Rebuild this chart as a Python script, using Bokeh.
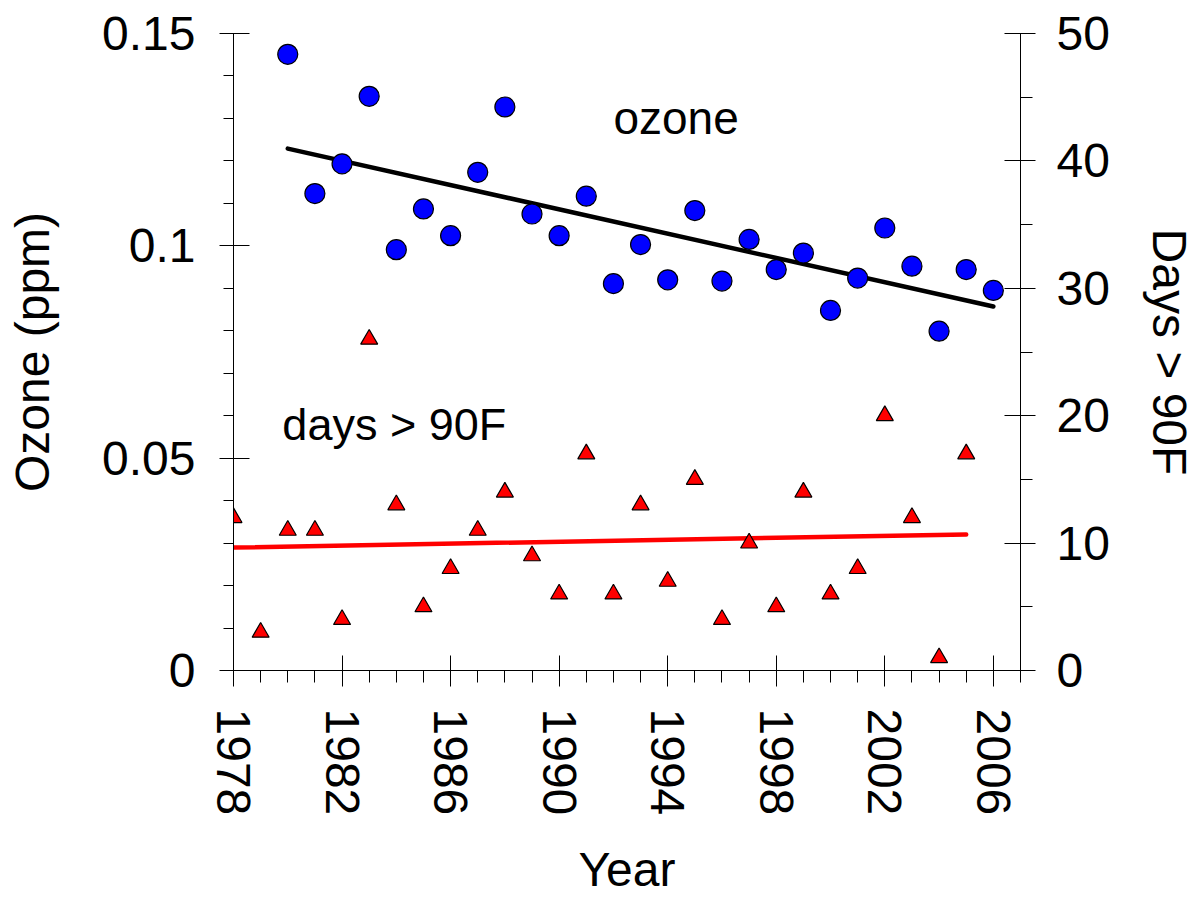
import math
from bokeh.plotting import figure
from bokeh.models import Range1d, LinearAxis, FixedTicker, Label
from bokeh.embed import file_html
from bokeh.resources import INLINE

# ---- data ----
ozone_years = list(range(1980, 2007))
ozone_ppm = [0.1451, 0.1123, 0.1193, 0.1352, 0.0991, 0.1087, 0.1024, 0.1173, 0.1327,
             0.1075, 0.1024, 0.1117, 0.0911, 0.1003, 0.0920, 0.1083, 0.0917, 0.1015,
             0.0944, 0.0983, 0.0848, 0.0924, 0.1042, 0.0952, 0.0799, 0.0944, 0.0895]

days_years = list(range(1978, 2006))
days_over_90f = [12, 3, 11, 11, 4, 26, 13, 5, 8, 11, 14, 9, 6, 17, 6, 13, 7, 15, 4, 10,
                 5, 14, 6, 8, 20, 12, 1, 17]

ozone_trend_years = [1980, 2006]
ozone_trend_ppm = [0.1229, 0.0857]
days_trend_years = [1978, 2005]
days_trend = [9.65, 10.68]

year_ticks = [1978, 1982, 1986, 1990, 1994, 1998, 2002, 2006]
year_minor_ticks = [y for y in range(1979, 2008) if y not in year_ticks]
ozone_ticks = [0, 0.05, 0.1, 0.15]
ozone_tick_labels = ["0", "0.05", "0.1", "0.15"]
ozone_minor_ticks = [0.01, 0.02, 0.03, 0.04, 0.06, 0.07, 0.08, 0.09, 0.11, 0.12, 0.13, 0.14]
days_ticks = [0, 10, 20, 30, 40, 50]
days_minor_ticks = [5, 15, 25, 35, 45]

FONT = "Liberation Sans"
TICK_FS = "48px"
LABEL_FS = "48px"

p = figure(width=1198, height=899, output_backend="svg", toolbar_location=None,
           x_range=Range1d(1978, 2007), y_range=Range1d(0, 0.15),
           min_border_left=233, min_border_right=178, min_border_top=33, min_border_bottom=229)
p.extra_y_ranges = {"days": Range1d(0, 50)}
p.outline_line_color = None
p.xgrid.visible = False
p.ygrid.visible = False
p.background_fill_color = "white"
p.border_fill_color = "white"

def style_axis(ax):
    ax.axis_line_color = "black"
    ax.axis_line_width = 1
    ax.major_tick_line_color = "black"
    ax.minor_tick_line_color = "black"
    ax.major_label_text_font = FONT
    ax.major_label_text_font_size = TICK_FS
    ax.major_label_text_color = "black"
    ax.axis_label_text_font = FONT
    ax.axis_label_text_font_size = LABEL_FS
    ax.axis_label_text_font_style = "normal"
    ax.axis_label_text_color = "black"
    ax.minor_tick_in = 0

# bottom axis
xa = p.xaxis[0]
style_axis(xa)
xa.ticker = FixedTicker(ticks=year_ticks, minor_ticks=year_minor_ticks)
xa.major_tick_in = 15
xa.major_tick_out = 16
xa.minor_tick_out = 12
xa.major_label_orientation = "vertical"
xa.major_label_standoff = 22
xa.axis_label = "Year"
xa.axis_label_standoff = 25

# left axis
ya = p.yaxis[0]
style_axis(ya)
ya.ticker = FixedTicker(ticks=ozone_ticks, minor_ticks=ozone_minor_ticks)
ya.major_label_overrides = dict(zip(ozone_ticks, ozone_tick_labels))
ya.major_tick_in = 16
ya.major_tick_out = 14
ya.minor_tick_out = 10
ya.major_label_standoff = 24
ya.axis_label = "Ozone (ppm)"
ya.axis_label_standoff = 40

# right axis
ra = LinearAxis(y_range_name="days")
style_axis(ra)
ra.ticker = FixedTicker(ticks=days_ticks, minor_ticks=days_minor_ticks)
ra.major_tick_in = 16
ra.major_tick_out = 15
ra.minor_tick_out = 12
ra.major_label_standoff = 21
ra.axis_label = "Days > 90F"
ra.axis_label_standoff = 30
p.add_layout(ra, "right")

# trend lines
p.line(days_trend_years, days_trend, y_range_name="days", line_color="#ff0000",
       line_width=4.5, line_cap="round")
p.line(ozone_trend_years, ozone_trend_ppm, line_color="black", line_width=4.5, line_cap="round")

# points
p.scatter(days_years, days_over_90f, y_range_name="days", marker="triangle", size=17,
          fill_color="#ff0000", line_color="black", line_width=1.2)
p.scatter(ozone_years, ozone_ppm, marker="circle", size=20,
          fill_color="#0000ff", line_color="black", line_width=1.2)

# in-plot annotations
p.add_layout(Label(x=1992.0, y=0.1301, text="ozone", text_font=FONT, text_font_size="46px",
                   text_color="black", text_align="left", text_baseline="alphabetic"))
p.add_layout(Label(x=1979.8, y=0.0579, text="days > 90F", text_font=FONT, text_font_size="45px",
                   text_color="black", text_align="left", text_baseline="alphabetic"))

open("out.html", "w").write(file_html(p, INLINE))
